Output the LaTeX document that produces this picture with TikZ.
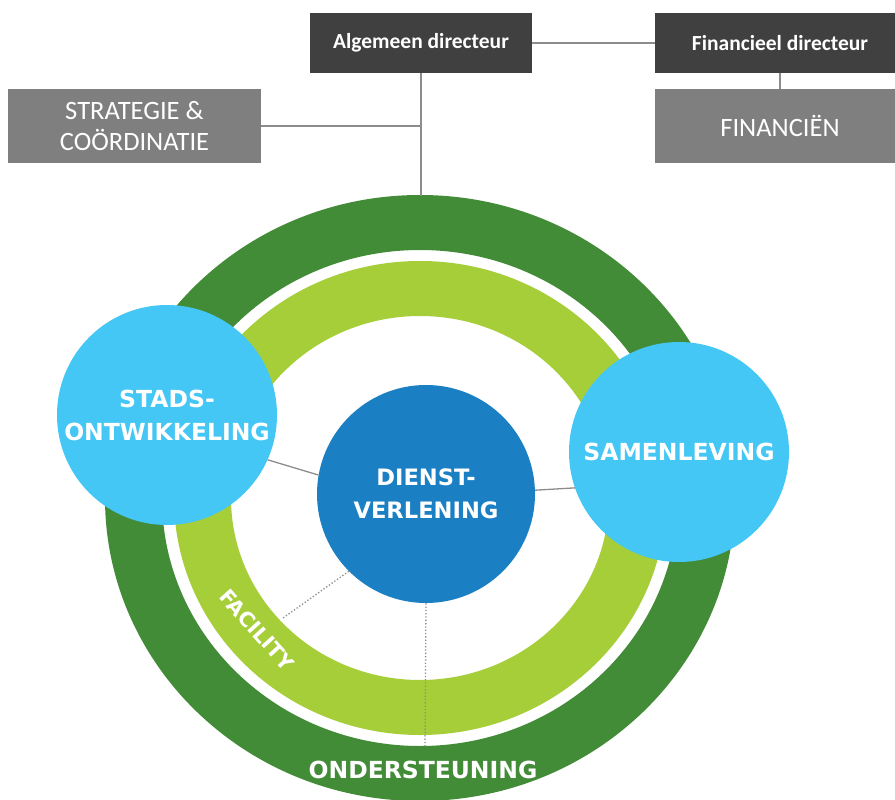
\documentclass[tikz,border=0pt]{standalone}
\usepackage{fontspec}
\setmainfont{Carlito}
\newfontfamily\circfont{DejaVu Sans}
\definecolor{dgreen}{HTML}{438C37}
\definecolor{lgreen}{HTML}{A6CE39}
\definecolor{lblue}{HTML}{44C7F4}
\definecolor{mblue}{HTML}{1B7FC4}
\definecolor{dbox}{HTML}{404040}
\definecolor{gbox}{HTML}{7F7F7F}
\definecolor{lin}{HTML}{8C8C8C}
\tikzset{
  darkbox/.style={fill=dbox, text=white, font=\bfseries\fontsize{21.5}{24}\selectfont, inner sep=0pt},
  graybox/.style={fill=gbox, text=white, font=\fontsize{26.5}{31}\selectfont, align=center, inner sep=0pt},
  conn/.style={draw=lin, line width=1.3pt},
  dotconn/.style={draw=lin, line width=1.3pt, dotted},
  bigcirc/.style={circle, fill=lblue, text=white, align=center, inner sep=0pt, minimum size=220pt, font=\circfont\bfseries\fontsize{23.5}{33}\selectfont},
  midcirc/.style={circle, fill=mblue, text=white, align=center, inner sep=0pt, minimum size=218pt, font=\circfont\bfseries\fontsize{22.6}{33}\selectfont},
  ringlabel/.style={text=white, inner sep=0pt},
}
\begin{document}
\begin{tikzpicture}[x=1pt,y=-1pt]
\clip (0,0) rectangle (895,800);
\fill[white] (0,0) rectangle (895,800);

% boxes
\node[darkbox, minimum width=222pt, minimum height=60pt] (ad) at (421,43) {Algemeen directeur};
\node[darkbox, minimum width=250pt, minimum height=60pt] (fd) at (780,43) {Financieel directeur};
\node[graybox, minimum width=253pt, minimum height=74pt] (sc) at (134.5,126) {STRATEGIE \&\\COÖRDINATIE};
\node[graybox, minimum width=250pt, minimum height=74pt] (fi) at (780,126) {FINANCIËN};

% rings
\coordinate (rc) at (420,498);
\fill[dgreen, even odd rule] (rc) ellipse[x radius=315pt, y radius=303pt] (rc) ellipse[x radius=258pt, y radius=248pt];
\fill[lgreen, even odd rule] (rc) ellipse[x radius=246pt, y radius=237pt] (rc) ellipse[x radius=189pt, y radius=182pt];

% connectors top
\coordinate (ringtop) at (421,196);
\draw[conn] (ad.east) -- (fd.west);
\draw[conn] (ad.south) -- (ringtop);
\draw[conn] (sc.east) -- (sc.east -| ad.south);
\draw[conn] (fd.south) -- (fi.north);

% circles
\node[midcirc] (di) at (426,494) {DIENST-\\VERLENING};
\coordinate (d1) at (283,618);
\coordinate (d2) at (425,747);
\draw[dotconn] (di.225) -- (d1);
\draw[dotconn] (di.south) -- (d2);
\node[bigcirc] (st) at (167,415) {STADS-\\ONTWIKKELING};
\node[bigcirc] (sa) at (679,452) {SAMENLEVING};
\draw[conn] (st.-24) -- (di.170);
\draw[conn] (di.2) -- (sa.199);

% ring labels
\node[ringlabel, rotate=-48, font=\circfont\bfseries\fontsize{20.5}{21}\selectfont] (fa) at (257,630) {FACILITY};
\node[ringlabel, font=\circfont\bfseries\fontsize{23.5}{24}\selectfont] (on) at (423,770) {ONDERSTEUNING};
\end{tikzpicture}
\end{document}
